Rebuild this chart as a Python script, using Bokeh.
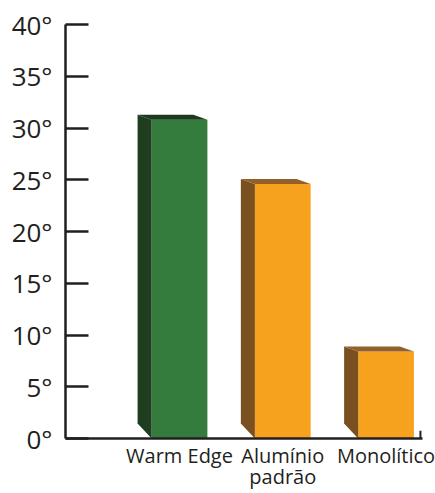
from bokeh.plotting import figure
from bokeh.models import Range1d, FixedTicker, PrintfTickFormatter, ColumnDataSource
from bokeh.embed import file_html
from bokeh.resources import INLINE

# ---- data ----
categories = ["Warm Edge", "Alumínio\npadrão", "Monolítico"]
values = [30.8, 24.6, 8.4]
front_colors = ["#347c3e", "#f6a21f", "#f6a21f"]
side_colors = ["#1f3d1f", "#7a5021", "#7a5021"]
top_colors = ["#1c3a1c", "#94602a", "#94602a"]
y_ticks = [0, 5, 10, 15, 20, 25, 30, 35, 40]

# ---- style ----
BAR_W = 0.54
DX = -0.136      # depth offset in x units
DY = 0.48        # depth offset in y units
LIFT = 1.45      # side face bottom lift
INK = "#231f20"
FONT = "Open Sans"

xs_pos = [i + 1 for i in range(len(categories))]

p = figure(width=435, height=493, output_backend="svg", toolbar_location=None,
           x_range=Range1d(-0.104, 3.353), y_range=Range1d(0, 40),
           min_border_left=65, min_border_right=13, min_border_top=24, min_border_bottom=54)

# front faces
src = ColumnDataSource(dict(x=xs_pos, top=values, color=front_colors))
p.vbar(x="x", top="top", bottom=0, width=BAR_W, fill_color="color",
       line_color="color", line_width=0, source=src)

# side and top faces
side_xs, side_ys, top_xs, top_ys = [], [], [], []
for x, v in zip(xs_pos, values):
    l, r = x - BAR_W / 2, x + BAR_W / 2
    side_xs.append([l + DX, l, l, l + DX])
    side_ys.append([v + DY, v, 0, LIFT])
    top_xs.append([l, r, r + DX, l + DX])
    top_ys.append([v, v, v + DY, v + DY])
p.patches(side_xs, side_ys, fill_color=side_colors, line_color=None)
p.patches(top_xs, top_ys, fill_color=top_colors, line_color=None)

# right-end tick of baseline
p.segment(x0=[p.x_range.end - 0.02], y0=[0], x1=[p.x_range.end - 0.02], y1=[0.75],
          line_color=INK, line_width=2)

# axes
p.xgrid.visible = False
p.ygrid.visible = False
p.outline_line_color = None

ya = p.yaxis[0]
ya.ticker = FixedTicker(ticks=y_ticks)
ya.formatter = PrintfTickFormatter(format="%d°")
ya.axis_line_color = INK
ya.axis_line_width = 2.5
ya.major_tick_line_color = INK
ya.major_tick_line_width = 2.5
ya.major_tick_in = 23
ya.major_tick_out = 0
ya.minor_tick_line_color = None
ya.major_label_standoff = 13
ya.major_label_text_font = FONT
ya.major_label_text_font_size = "26px"
ya.major_label_text_color = INK

xa = p.xaxis[0]
xa.ticker = FixedTicker(ticks=xs_pos)
xa.major_label_overrides = {x: c for x, c in zip(xs_pos, categories)}
xa.axis_line_color = INK
xa.axis_line_width = 2.5
xa.major_tick_line_color = None
xa.major_tick_in = 0
xa.major_tick_out = 0
xa.minor_tick_line_color = None
xa.major_label_standoff = 3
xa.major_label_text_font = FONT
xa.major_label_text_font_size = "20px"
xa.major_label_text_color = INK
xa.major_label_text_line_height = 0.8

open("out.html", "w").write(file_html(p, INLINE))
